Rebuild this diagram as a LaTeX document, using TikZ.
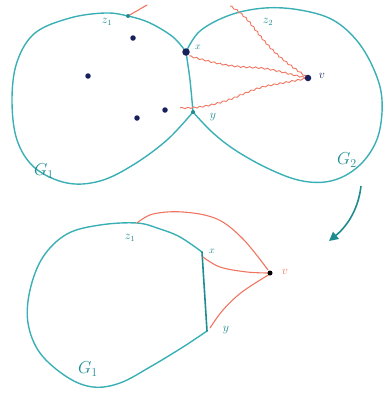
\documentclass[tikz,border=0pt]{standalone}
\usetikzlibrary{decorations.pathmorphing,arrows.meta}
\definecolor{teal1}{HTML}{3AB0B6}
\definecolor{teal2}{HTML}{1E8C91}
\definecolor{redl}{HTML}{F07560}
\definecolor{navy}{HTML}{18215C}
\tikzset{
  outline/.style={teal1,line width=1.4pt,line cap=round,line join=round},
  midline/.style={teal2,line width=1.6pt,line cap=round},
  rededge/.style={redl,line width=1.1pt,line cap=round},
  wavy/.style={redl,line width=0.9pt,decorate,decoration={snake,amplitude=0.7pt,segment length=6pt}},
  vdot/.style={circle,fill=navy,inner sep=0pt,minimum size=5.5pt},
  sdot/.style={circle,fill=teal2,inner sep=0pt,minimum size=4pt},
  lab/.style={text=teal2,font=\large},
  glab/.style={text=teal2,font=\LARGE},
}
\begin{document}
\begin{tikzpicture}[x=1pt,y=-1pt]
\useasboundingbox (0,0) rectangle (391,394);
% ---------- top figure ----------
\coordinate (x) at (186,52);
\coordinate (y) at (193,112);
\coordinate (z1) at (128,16);
\coordinate (v) at (308,78);
\draw[outline] plot[smooth,tension=0.6] coordinates {(193,112) (167,140) (133,165) (100,181) (67,183) (35,168) (17,140) (12,100) (17,62) (35,33) (70,18) (105,13) (128,16) (150,23) (173,37) (186,52)};
\draw[outline] plot[smooth,tension=0.6] coordinates {(186,52) (200,31) (230,15) (265,8) (300,10) (333,20) (358,42) (375,72) (382,100) (379,133) (367,157) (348,174) (325,182) (298,180) (267,168) (235,150) (212,132) (193,112)};
\draw[outline] plot[smooth] coordinates {(186,52) (190,80) (193,112)};
% red edges
\coordinate (ztop) at (147,5);
\draw[rededge] (z1) -- (ztop);
\coordinate (z2top) at (230,6);
\coordinate (w1) at (262,39);
\draw[wavy] (z2top) to[out=-30,in=130] (w1) to[out=-50,in=145] (v);
\coordinate (xs) at (189,56);
\draw[wavy] (xs) to[out=-15,in=178] (250,67) to[out=-2,in=170] (v);
\coordinate (ystart) at (180,108);
\draw[wavy] (ystart) to[out=0,in=195] (217,103) to[out=15,in=190] (270,85) to[out=10,in=190] (v);
% vertices
\node[vdot,minimum size=7.5pt] (xn) at (x) {};
\node[sdot] (yn) at (y) {};
\node[sdot] (z1n) at (z1) {};
\node[vdot,minimum size=6.5pt] (vn) at (v) {};
\node[vdot] (d1) at (133,38) {};
\node[vdot] (d2) at (88,76) {};
\node[vdot] (d3) at (137,118) {};
\node[vdot] (d4) at (165,110) {};
% labels
\node[lab] (lz1) at (107,22) {$z_1$};
\node[lab] (lz2) at (268,22) {$z_2$};
\node[lab,font=\normalsize] (lx) at (198,47) {$x$};
\node[lab] (ly) at (213,117) {$y$};
\node[text=navy,font=\large] (lv) at (322,76) {$v$};
\node[glab] (lg1) at (44,171) {$G_1$};
\node[glab] (lg2) at (347,160) {$G_2$};
% arrow
\coordinate (a1) at (361,186);
\coordinate (a2) at (329,241);
\draw[teal2,line width=1.6pt,-{Triangle[length=9pt,width=9pt]}] (a1) .. controls (358,212) and (345,228) .. (a2);
% ---------- bottom figure ----------
\coordinate (bx) at (202,252);
\coordinate (by) at (207,331);
\coordinate (bz) at (137,223);
\coordinate (bv) at (270,273);
\draw[outline] plot[smooth,tension=0.6] coordinates {(202,252) (180,237) (160,229) (137,223) (100,225) (67,234) (43,257) (30,290) (28,323) (40,353) (67,377) (93,387) (120,383) (150,367) (183,347) (207,331)};
\draw[midline] (by) -- (bx);
\draw[rededge] plot[smooth,tension=0.6] coordinates {(137,223) (153,214) (183,212) (217,219) (243,239) (268,270)};
\draw[rededge] plot[smooth,tension=0.6] coordinates {(203,257) (220,267) (247,272) (270,273)};
\draw[rededge] plot[smooth,tension=0.6] coordinates {(210,328) (223,310) (242,292) (270,274)};
\node[vdot,fill=black,minimum size=5pt] (bvn) at (bv) {};
\node[lab] (blz1) at (130,238) {$z_1$};
\node[lab,font=\normalsize] (blx) at (212,251) {$x$};
\node[lab] (bly) at (226,330) {$y$};
\node[text=redl,font=\large] (blv) at (285,272) {$v$};
\node[glab] (blg1) at (88,369) {$G_1$};
\end{tikzpicture}
\end{document}
